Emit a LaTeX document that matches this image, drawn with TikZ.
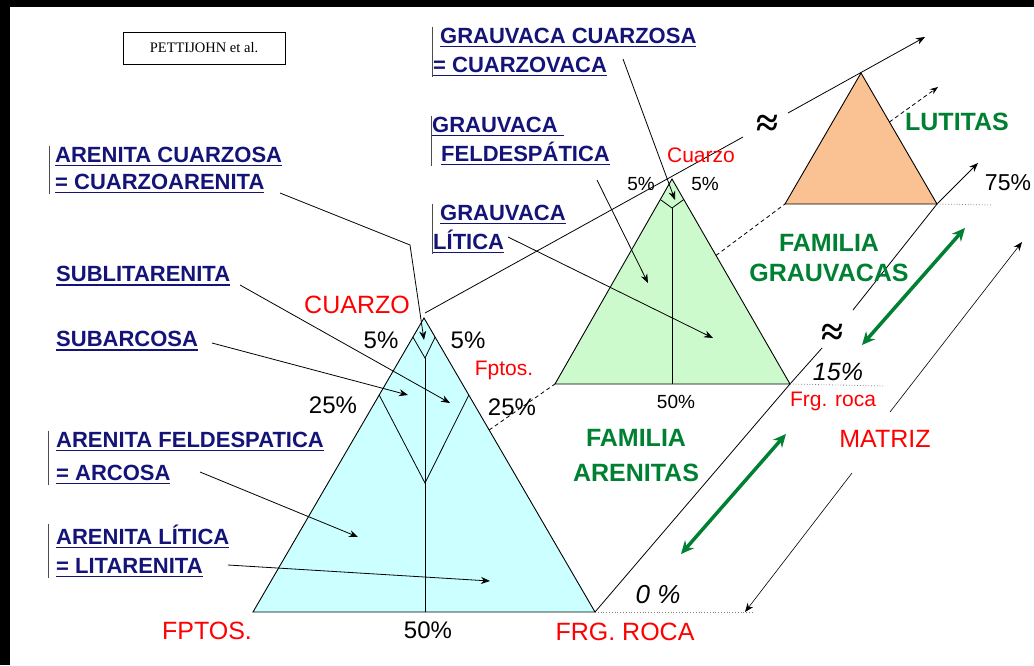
\documentclass[tikz,border=0pt]{standalone}
\usepackage{fontspec}
\setmainfont{Liberation Sans}
\newfontfamily\timesfont{Liberation Serif}
\usetikzlibrary{arrows.meta,calc}
\definecolor{navy}{RGB}{20,20,120}
\definecolor{cyanfill}{RGB}{204,255,255}
\definecolor{mintfill}{RGB}{204,250,204}
\definecolor{peachfill}{RGB}{250,194,146}
\definecolor{famgreen}{RGB}{0,128,50}
\definecolor{redlbl}{RGB}{255,0,0}
\newcommand{\undl}[1]{\leavevmode\vtop{\hbox{#1}\kern2.2pt\hrule height 1.5pt}}
\newcommand{\fsz}[2]{\fontsize{#1}{#2}\selectfont}

\begin{document}
\begin{tikzpicture}[x=1pt,y=-1pt,
  lbl/.style={font=\fsz{22}{29}\bfseries, text=navy, align=left,
    anchor=west, inner xsep=#1, inner ysep=1pt},
  lbl/.default=6pt,
  bar/.style={line width=1pt, gray!60!black},
  redtxt/.style={text=redlbl, font=\fsz{25}{30}},
  redsm/.style={text=redlbl, font=\fsz{21}{25}},
  pct/.style={font=\fsz{24}{28}},
  pctsm/.style={font=\fsz{19}{22}},
  fam/.style={text=famgreen, font=\fsz{25}{30}\bfseries, align=center},
  apx/.style={font=\timesfont\bfseries\fsz{40}{40}},
  tri/.style={draw, line width=0.9pt},
  ptr/.style={-{Stealth[length=9pt,width=7pt]}, line width=0.8pt},
  dbl/.style={{Stealth[length=13pt,width=12pt]}-{Stealth[length=13pt,width=12pt]},
    line width=3.5pt, famgreen},
  dsh/.style={dash pattern=on 4pt off 3pt, line width=0.8pt},
  dotln/.style={dotted, gray, line width=0.8pt}]

  \useasboundingbox (0,0) rectangle (1034,665);
  \fill[white] (0,0) rectangle (1034,665);
  \fill[black] (0,0) rectangle (1034,7);
  \fill[black] (0,0) rectangle (10,665);

  % triangles
  \coordinate (bQ) at (424,318); \coordinate (bF) at (253,612); \coordinate (bR) at (595,612);
  \coordinate (gQ) at (672,179); \coordinate (gF) at (555,384); \coordinate (gR) at (790,384);
  \coordinate (oQ) at (861,73);  \coordinate (oF) at (785,204); \coordinate (oR) at (937,204);

  \filldraw[tri, fill=cyanfill] (bQ) -- (bF) -- (bR) -- cycle;
  \filldraw[tri, fill=mintfill] (gQ) -- (gF) -- (gR) -- cycle;
  \filldraw[tri, fill=peachfill] (oQ) -- (oF) -- (oR) -- cycle;

  % class limits
  \coordinate (b5) at (425,358); \coordinate (b25) at (425,483); \coordinate (bM) at (425,612);
  \draw[line width=0.8pt] ($(bQ)!0.065!(bF)$) -- (b5) -- ($(bQ)!0.065!(bR)$);
  \draw[line width=0.8pt] ($(bQ)!0.262!(bF)$) -- (b25) -- ($(bQ)!0.262!(bR)$);
  \draw[line width=0.8pt] (b5) -- (bM);
  \coordinate (g5) at (672,208); \coordinate (gM) at (672,384);
  \draw[line width=0.8pt] ($(gQ)!0.1!(gF)$) -- (g5) -- ($(gQ)!0.1!(gR)$);
  \draw[line width=0.8pt] (g5) -- (gM);

  % quartz axis
  \coordinate (q0) at (425,313); \coordinate (q1) at (743,137);
  \coordinate (q2) at (788,113); \coordinate (q3) at (925,37);
  \node[apx] (apx1) at (767,126) {≈};
  \draw[line width=0.8pt] (q0) -- (q1);
  \draw[ptr] (q2) -- (q3);

  % rock fragment axis
  \coordinate (r1) at (822,348); \coordinate (r2) at (853,310); \coordinate (r3) at (978,163);
  \node[apx] (apx2) at (832,335) {≈};
  \draw[line width=0.8pt] (bR) -- (gR) -- (r1);
  \draw[ptr] (r2) -- (oR) -- (r3);

  % feldspar links
  \coordinate (l1) at (938,87);
  \draw[dsh] ($(bQ)!0.381!(bR)$) -- (gF);
  \draw[dsh] ($(gQ)!0.373!(gR)$) -- (oF);
  \draw[dsh, -{Stealth[length=8pt,width=6pt]}] ($(oQ)!0.374!(oR)$) -- (l1);

  % matrix levels
  \coordinate (m0) at (752,612); \coordinate (m15) at (885,386); \coordinate (m75) at (992,205);
  \draw[dotln] (bR) -- (m0);
  \draw[dotln] (gR) -- (m15);
  \draw[dotln] (oR) -- (m75);

  \node[redtxt] (matriz) at (885,439) {MATRIZ};
  \coordinate (ma1) at (852,473); \coordinate (ma2) at (745,612);
  \coordinate (mb1) at (890,412); \coordinate (mb2) at (1022,242);
  \draw[ptr, line width=0.6pt] (ma1) -- (ma2);
  \draw[ptr, line width=0.6pt] (mb1) -- (mb2);

  \coordinate (ga1) at (681,554); \coordinate (ga2) at (786,434);
  \coordinate (gb1) at (862,345); \coordinate (gb2) at (965,228);
  \draw[dbl] (ga1) -- (ga2);
  \draw[dbl] (gb1) -- (gb2);

  % vertex and percentage labels
  \node[redtxt] (cuarzo) at (357,305) {CUARZO};
  \node[redtxt] (fptos) at (207,631) {FPTOS.};
  \node[redtxt] (frg) at (625,632) {FRG. ROCA};
  \node[redsm] (cuarzo2) at (701,155) {Cuarzo};
  \node[redsm] (fptos2) at (504,370) {Fptos.};
  \node[redsm] (frg2) at (833,401) {Frg. roca};

  \node[pct] (p5a) at (381,340) {5\%};
  \node[pct] (p5b) at (468,340) {5\%};
  \node[pct] (p25a) at (333,405) {25\%};
  \node[pct] (p25b) at (512,407) {25\%};
  \node[pct] (p50) at (428,630) {50\%};
  \node[pctsm] (g5a) at (641,184) {5\%};
  \node[pctsm] (g5b) at (705,184) {5\%};
  \node[pctsm] (g50) at (676,402) {50\%};
  \node[pct, font=\fsz{25}{28}\itshape] (m15lbl) at (838,372) {15\%};
  \node[pct, font=\fsz{26}{28}\itshape] (m0lbl) at (658,595) {0 \%};
  \node[pct, font=\fsz{23}{26}] (m75lbl) at (1008,183) {75\%};

  \node[fam] (lutitas) at (957,122) {LUTITAS};
  \node[fam] (famg) at (829,258) {FAMILIA\\GRAUVACAS};
  \node[fam, font=\fsz{25}{35}\bfseries] (fama) at (636,456) {FAMILIA\\ARENITAS};

  \node[draw, line width=0.8pt, minimum width=162pt, minimum height=32pt,
    font=\timesfont\fsz{14.5}{17}] (pett) at (204,48) {PETTIJOHN et al.};

  % rock names
  \node[lbl, font=\fsz{22}{27}\bfseries] (acz) at (49,170)
    {\undl{ARENITA CUARZOSA}\\\undl{= CUARZOARENITA}};
  \node[lbl] (sublit) at (50,276) {\undl{SUBLITARENITA}};
  \node[lbl] (subarc) at (50,341) {\undl{SUBARCOSA}};
  \node[lbl=8pt, font=\fsz{22}{33}\bfseries] (arcosa) at (48,458)
    {\undl{ARENITA FELDESPATICA}\\\undl{= ARCOSA}};
  \node[lbl=8pt] (litar) at (48,551) {\undl{ARENITA LÍTICA}\\\undl{= LITARENITA}};
  \node[lbl=1pt] (gcz) at (432,52) {\hspace*{7pt}\undl{GRAUVACA CUARZOSA}\\\undl{= CUARZOVACA}};
  \node[lbl=1pt] (gfel) at (431,141) {\undl{GRAUVACA\ }\\\hspace*{9pt}\undl{FELDESPÁTICA}};
  \node[lbl=1pt] (glit) at (432,229) {\hspace*{7pt}\undl{GRAUVACA}\\\undl{LÍTICA}};

  \foreach \n in {acz,arcosa,litar,gcz,gfel,glit}
    \draw[bar] (\n.north west) -- (\n.south west);

  % pointers
  \coordinate (acz-s) at (280,193); \coordinate (acz-k) at (410,245); \coordinate (acz-t) at (424,340);
  \coordinate (sublit-s) at (240,285); \coordinate (sublit-t) at (450,403);
  \coordinate (subarc-s) at (212,343); \coordinate (subarc-t) at (408,395);
  \coordinate (arcosa-s) at (200,472); \coordinate (arcosa-t) at (358,537);
  \coordinate (litar-s) at (228,565); \coordinate (litar-t) at (490,581);
  \coordinate (gcz-s) at (623,59); \coordinate (gcz-t) at (675,200);
  \coordinate (gfel-s) at (597,180); \coordinate (gfel-t) at (648,283);
  \coordinate (glit-s) at (508,237); \coordinate (glit-t) at (713,338);

  \draw[ptr] (acz-s) -- (acz-k) -- (acz-t);
  \foreach \n in {sublit,subarc,arcosa,litar,gcz,gfel,glit}
    \draw[ptr] (\n-s) -- (\n-t);
\end{tikzpicture}
\end{document}
